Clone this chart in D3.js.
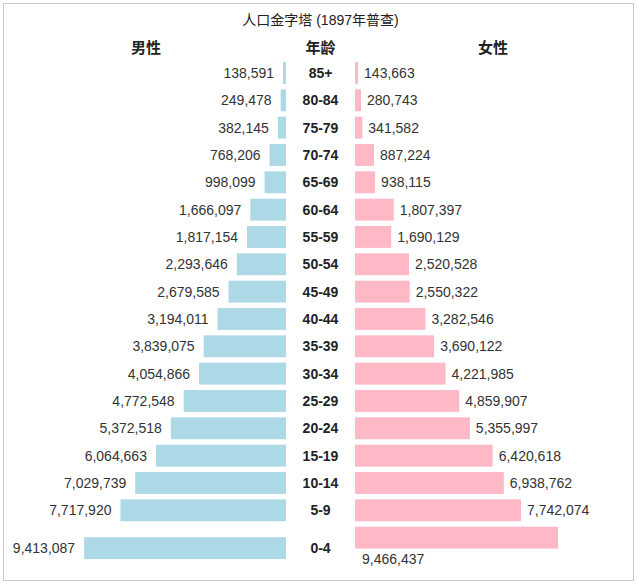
<!DOCTYPE html>
<html>
<head>
  <meta charset="UTF-8">
  <script src="https://d3js.org/d3.v7.min.js"></script>
  <style>
    body { margin: 0; background: #fff; }
    text { font-family: "Liberation Sans", Arial, "Noto Sans CJK SC", sans-serif; }
    .cjk { font-family: "Liberation Sans", "Noto Sans CJK SC", sans-serif; }
  </style>
</head>
<body>
  <div id="my_dataviz"></div>
  <script>
    // age groups, top to bottom
    var ages = ["85+", "80-84", "75-79", "70-74", "65-69", "60-64", "55-59", "50-54", "45-49",
      "40-44", "35-39", "30-34", "25-29", "20-24", "15-19", "10-14", "5-9", "0-4"];

    var male = [138591, 249478, 382145, 768206, 998099, 1666097, 1817154, 2293646, 2679585,
      3194011, 3839075, 4054866, 4772548, 5372518, 6064663, 7029739, 7717920, 9413087];

    var female = [143663, 280743, 341582, 887224, 938115, 1807397, 1690129, 2520528, 2550322,
      3282546, 3690122, 4221985, 4859907, 5355997, 6420618, 6938762, 7742074, 9466437];

    var title = "人口金字塔 (1897年普查)";
    var headers = ["男性", "年龄", "女性"];

    var width = 640, height = 586;
    var centerX = 320.5;
    var maleRight = 286, femaleLeft = 355;

    var data = ages.map(function (a, i) {
      return { age: a, male: male[i], female: female[i] };
    });

    var svg = d3.select("#my_dataviz").append("svg")
      .attr("width", width)
      .attr("height", height);

    // frame
    svg.append("rect")
      .attr("x", 3.5).attr("y", 3.5)
      .attr("width", 630).attr("height", 577)
      .attr("fill", "none")
      .attr("stroke", "#c8c8c8");

    // scales
    var x = d3.scaleLinear()
      .domain([0, d3.max(female)])
      .range([0, 203]);

    var y = d3.scaleBand()
      .domain(ages)
      .range([59.3, 551.3])
      .paddingInner(0.2)
      .paddingOuter(0.1);

    // last row: male bar + age label sit a bit lower, female label under its bar
    var lastShift = 10.5;
    function rowShift(d) { return d.age === "0-4" ? lastShift : 0; }

    // title + headers
    svg.append("text")
      .attr("class", "cjk")
      .attr("x", centerX).attr("y", 25)
      .attr("text-anchor", "middle")
      .style("font-size", "14px")
      .style("fill", "#222")
      .text(title);

    svg.selectAll(".header")
      .data(headers)
      .enter().append("text")
      .attr("class", "header cjk")
      .attr("x", function (d, i) { return [146, centerX, 493][i]; })
      .attr("y", 53)
      .attr("text-anchor", "middle")
      .style("font-size", "15px")
      .style("font-weight", "bold")
      .style("fill", "#222")
      .text(function (d) { return d; });

    var fmt = d3.format(",");

    var rows = svg.selectAll(".row")
      .data(data)
      .enter().append("g")
      .attr("class", "row");

    // male bars
    rows.append("rect")
      .attr("x", function (d) { return maleRight - x(d.male); })
      .attr("y", function (d) { return y(d.age) + rowShift(d); })
      .attr("width", function (d) { return x(d.male); })
      .attr("height", y.bandwidth())
      .attr("fill", "#add8e6");

    // female bars
    rows.append("rect")
      .attr("x", femaleLeft)
      .attr("y", function (d) { return y(d.age); })
      .attr("width", function (d) { return x(d.female); })
      .attr("height", y.bandwidth())
      .attr("fill", "#ffb9c6");

    // male values
    rows.append("text")
      .attr("x", function (d) { return maleRight - x(d.male) - 9; })
      .attr("y", function (d) { return y(d.age) + y.bandwidth() / 2 + rowShift(d); })
      .attr("dy", "0.35em")
      .attr("text-anchor", "end")
      .style("font-size", "14px")
      .style("fill", "#333")
      .text(function (d) { return fmt(d.male); });

    // female values
    rows.append("text")
      .attr("x", function (d) { return d.age === "0-4" ? femaleLeft + 7 : femaleLeft + x(d.female) + 6; })
      .attr("y", function (d) {
        return d.age === "0-4" ? y(d.age) + y.bandwidth() + 11 : y(d.age) + y.bandwidth() / 2;
      })
      .attr("dy", "0.35em")
      .attr("text-anchor", "start")
      .style("font-size", "14px")
      .style("fill", "#333")
      .text(function (d) { return fmt(d.female); });

    // age labels
    rows.append("text")
      .attr("x", centerX)
      .attr("y", function (d) { return y(d.age) + y.bandwidth() / 2 + rowShift(d); })
      .attr("dy", "0.35em")
      .attr("text-anchor", "middle")
      .style("font-size", "14px")
      .style("font-weight", "bold")
      .style("fill", "#222")
      .text(function (d) { return d.age; });
  </script>
</body>
</html>
